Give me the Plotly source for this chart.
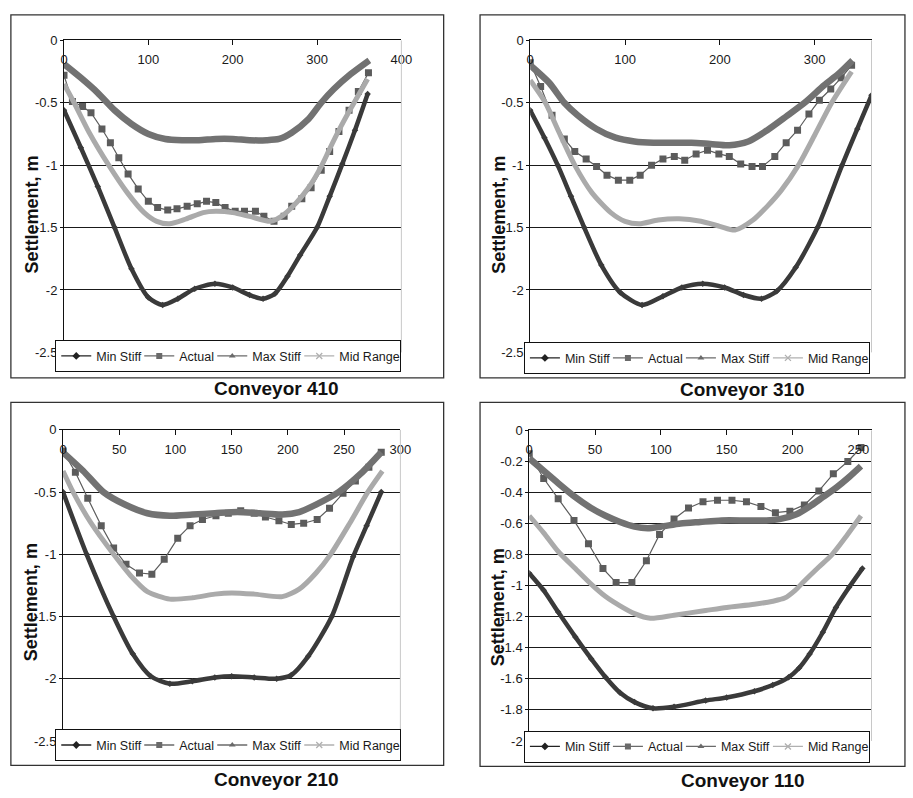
import plotly.graph_objects as go

W, H = 913, 798

# ---------------- Conveyor 410 ----------------
c410_min_x = [0, 20, 40, 60, 80, 100, 117, 135, 155, 179, 200, 220, 236, 250, 265, 280, 300, 315, 330, 345, 360]
c410_min_y = [-0.56, -0.86, -1.17, -1.50, -1.83, -2.06, -2.12, -2.07, -1.99, -1.95, -1.98, -2.04, -2.07, -2.03, -1.89, -1.72, -1.50, -1.25, -0.99, -0.72, -0.43]
c410_act_x = [0, 10, 22, 32, 45, 55, 65, 76, 88, 100, 111, 123, 134, 146, 158, 169, 180, 191, 203, 214, 227, 237, 249, 261, 270, 282, 293, 305, 315, 326, 338, 349, 361]
c410_act_y = [-0.28, -0.49, -0.53, -0.58, -0.71, -0.82, -0.94, -1.07, -1.19, -1.29, -1.34, -1.36, -1.35, -1.33, -1.31, -1.29, -1.30, -1.34, -1.37, -1.37, -1.37, -1.41, -1.45, -1.41, -1.33, -1.27, -1.18, -1.04, -0.89, -0.73, -0.56, -0.41, -0.26]
c410_max_x = [0, 20, 40, 60, 80, 100, 120, 140, 160, 180, 200, 220, 240, 255, 270, 290, 305, 320, 340, 362]
c410_max_y = [-0.19, -0.30, -0.42, -0.56, -0.67, -0.75, -0.79, -0.80, -0.80, -0.79, -0.79, -0.80, -0.80, -0.79, -0.74, -0.63, -0.50, -0.39, -0.27, -0.16]
c410_mid_x = [0, 12, 30, 53, 75, 95, 110, 125, 145, 165, 180, 200, 220, 245, 260, 270, 282, 293, 305, 315, 326, 338, 349, 360]
c410_mid_y = [-0.35, -0.50, -0.74, -1.00, -1.22, -1.38, -1.45, -1.47, -1.43, -1.38, -1.37, -1.38, -1.41, -1.45, -1.40, -1.34, -1.25, -1.15, -1.01, -0.87, -0.72, -0.57, -0.44, -0.31]

# ---------------- Conveyor 310 ----------------
c310_min_x = [0, 15, 29, 43, 57, 75, 95, 118, 140, 160, 182, 205, 225, 244, 260, 280, 303, 329, 345, 360]
c310_min_y = [-0.56, -0.78, -1.00, -1.25, -1.50, -1.80, -2.02, -2.12, -2.05, -1.98, -1.95, -1.98, -2.04, -2.07, -2.01, -1.82, -1.50, -1.00, -0.71, -0.44]
c310_act_x = [0, 11, 23, 36, 47, 59, 70, 81, 93, 105, 116, 128, 140, 152, 163, 175, 187, 199, 210, 222, 234, 245, 258, 270, 282, 294, 305, 317, 328, 339]
c310_act_y = [-0.18, -0.37, -0.60, -0.79, -0.89, -0.95, -1.01, -1.08, -1.12, -1.12, -1.08, -1.00, -0.95, -0.93, -0.96, -0.91, -0.88, -0.91, -0.93, -0.99, -1.01, -1.01, -0.93, -0.82, -0.72, -0.59, -0.48, -0.39, -0.30, -0.20]
c310_max_x = [0, 20, 36, 50, 70, 90, 110, 130, 150, 170, 190, 210, 230, 250, 270, 291, 310, 325, 340]
c310_max_y = [-0.20, -0.34, -0.50, -0.60, -0.71, -0.78, -0.81, -0.82, -0.82, -0.82, -0.83, -0.84, -0.81, -0.72, -0.61, -0.49, -0.36, -0.27, -0.16]
c310_mid_x = [0, 16, 30, 47, 65, 85, 100, 115, 135, 157, 180, 200, 216, 235, 250, 265, 283, 300, 318, 339]
c310_mid_y = [-0.32, -0.50, -0.73, -1.00, -1.22, -1.38, -1.45, -1.47, -1.44, -1.43, -1.45, -1.49, -1.52, -1.44, -1.33, -1.20, -1.00, -0.76, -0.50, -0.25]

# ---------------- Conveyor 210 ----------------
c210_min_x = [0, 21, 45, 62, 78, 95, 115, 135, 150, 170, 190, 203, 218, 239, 258, 270, 283]
c210_min_y = [-0.50, -1.00, -1.50, -1.80, -1.98, -2.04, -2.02, -1.99, -1.98, -1.99, -2.00, -1.97, -1.82, -1.50, -1.02, -0.77, -0.50]
c210_act_x = [0, 11, 22, 34, 45, 56, 68, 79, 90, 102, 113, 124, 136, 147, 158, 170, 180, 192, 203, 214, 226, 237, 249, 260, 272, 283]
c210_act_y = [-0.17, -0.34, -0.55, -0.77, -0.95, -1.08, -1.15, -1.16, -1.04, -0.87, -0.77, -0.72, -0.69, -0.67, -0.65, -0.67, -0.70, -0.73, -0.76, -0.75, -0.72, -0.63, -0.51, -0.41, -0.30, -0.18]
c210_max_x = [0, 18, 36, 55, 75, 95, 115, 135, 155, 175, 195, 210, 225, 245, 265, 283]
c210_max_y = [-0.18, -0.33, -0.50, -0.60, -0.67, -0.69, -0.68, -0.67, -0.66, -0.67, -0.68, -0.66, -0.60, -0.50, -0.35, -0.18]
c210_mid_x = [0, 9, 25, 45, 60, 75, 95, 115, 135, 150, 170, 195, 210, 225, 238, 255, 271, 284]
c210_mid_y = [-0.33, -0.50, -0.75, -1.00, -1.17, -1.30, -1.36, -1.35, -1.32, -1.31, -1.32, -1.34, -1.28, -1.15, -1.00, -0.75, -0.50, -0.33]

# ---------------- Conveyor 110 ----------------
c110_min_x = [0, 11, 22, 35, 47, 58, 69, 80, 94, 110, 134, 150, 171, 185, 197, 205, 213, 223, 233, 243, 253]
c110_min_y = [-0.92, -1.03, -1.17, -1.33, -1.47, -1.59, -1.69, -1.75, -1.79, -1.78, -1.74, -1.72, -1.68, -1.64, -1.59, -1.53, -1.44, -1.30, -1.14, -1.01, -0.89]
c110_act_x = [0, 11, 22, 34, 45, 56, 66, 78, 89, 99, 110, 121, 132, 143, 154, 165, 176, 187, 198, 209, 220, 231, 242, 252]
c110_act_y = [-0.15, -0.31, -0.44, -0.58, -0.73, -0.89, -0.98, -0.98, -0.84, -0.67, -0.57, -0.50, -0.46, -0.45, -0.45, -0.46, -0.49, -0.53, -0.52, -0.48, -0.39, -0.28, -0.20, -0.11]
c110_max_x = [0, 11, 22, 35, 47, 58, 69, 80, 90, 100, 115, 130, 146, 165, 180, 191, 203, 213, 223, 233, 243, 252]
c110_max_y = [-0.18, -0.26, -0.34, -0.43, -0.50, -0.55, -0.59, -0.62, -0.63, -0.62, -0.60, -0.59, -0.58, -0.58, -0.58, -0.57, -0.54, -0.49, -0.43, -0.37, -0.30, -0.23]
c110_mid_x = [0, 11, 22, 35, 47, 58, 69, 80, 92, 110, 134, 150, 171, 185, 194, 202, 209, 220, 230, 241, 252]
c110_mid_y = [-0.55, -0.66, -0.78, -0.89, -0.99, -1.07, -1.13, -1.18, -1.21, -1.19, -1.16, -1.14, -1.12, -1.10, -1.08, -1.03, -0.97, -0.88, -0.80, -0.68, -0.55]

# ---------------- tick labels ----------------
x_ticks_410 = [0, 100, 200, 300, 400]
x_ticks_310 = [0, 100, 200, 300]
x_ticks_210 = [0, 50, 100, 150, 200, 250, 300]
x_ticks_110 = [0, 50, 100, 150, 200, 250]
y_ticks_25 = [0, -0.5, -1, -1.5, -2, -2.5]
y_labels_25 = ["0", "-0.5", "-1", "-1.5", "-2", "-2.5"]
y_ticks_20 = [0, -0.2, -0.4, -0.6, -0.8, -1, -1.2, -1.4, -1.6, -1.8, -2]
y_labels_20 = ["0", "-0.2", "-0.4", "-0.6", "-0.8", "-1", "-1.2", "-1.4", "-1.6", "-1.8", "-2"]

series_names = ["Min Stiff", "Actual", "Max Stiff", "Mid Range"]
titles = ["Conveyor 410", "Conveyor 310", "Conveyor 210", "Conveyor 110"]
y_title = "Settlement, m"

FONT = "Liberation Sans, Arial, sans-serif"
C_MIN = "#3a3a3a"
C_ACT = "#5c5c5c"
C_MAX = "#727272"
C_MID = "#aaaaaa"

panels = [
    dict(data=[(c410_min_x, c410_min_y), (c410_act_x, c410_act_y), (c410_max_x, c410_max_y), (c410_mid_x, c410_mid_y)],
         px=(61, 404, 34, 352), xmax=400, xt=x_ticks_410, yt=y_ticks_25, yl=y_labels_25, ymin=-2.5,
         frame=(7, 8, 447, 378), title=(277, 389), ytitle=(28, 212), leg=(228, 356)),
    dict(data=[(c310_min_x, c310_min_y), (c310_act_x, c310_act_y), (c310_max_x, c310_max_y), (c310_mid_x, c310_mid_y)],
         px=(535, 882, 34, 352), xmax=360, xt=x_ticks_310, yt=y_ticks_25, yl=y_labels_25, ymin=-2.5,
         frame=(484, 8, 916, 378), title=(751, 390), ytitle=(503, 212), leg=(704.5, 358)),
    dict(data=[(c210_min_x, c210_min_y), (c210_act_x, c210_act_y), (c210_max_x, c210_max_y), (c210_mid_x, c210_mid_y)],
         px=(60, 403, 431, 748), xmax=300, xt=x_ticks_210, yt=y_ticks_25, yl=y_labels_25, ymin=-2.5,
         frame=(7, 403, 447, 773), title=(277, 787), ytitle=(27, 607), leg=(228, 752.5)),
    dict(data=[(c110_min_x, c110_min_y), (c110_act_x, c110_act_y), (c110_max_x, c110_max_y), (c110_mid_x, c110_mid_y)],
         px=(534, 882, 431.5, 748), xmax=260, xt=x_ticks_110, yt=y_ticks_20, yl=y_labels_20, ymin=-2.0,
         frame=(484, 403, 916, 774), title=(751, 788), ytitle=(503, 612), leg=(704.5, 754)),
]

styles = [
    dict(mode="lines+markers", line=dict(color=C_MIN, width=4.5), marker=dict(symbol="diamond", size=5, color=C_MIN)),
    dict(mode="lines+markers", line=dict(color=C_ACT, width=1.2), marker=dict(symbol="square", size=7, color=C_ACT)),
    dict(mode="lines", line=dict(color=C_MAX, width=6.5), marker=dict(symbol="triangle-up", size=6, color=C_MAX)),
    dict(mode="lines", line=dict(color=C_MID, width=5), marker=dict(symbol="x-thin", size=7, line=dict(color=C_MID, width=1.5), color=C_MID)),
]
legend_styles = [
    dict(line=dict(color="#222222", width=1.3), marker=dict(symbol="diamond", size=6, color="#222222")),
    dict(line=dict(color="#6a6a6a", width=1.3), marker=dict(symbol="square", size=6, color="#6a6a6a")),
    dict(line=dict(color="#6a6a6a", width=1.3), marker=dict(symbol="triangle-up", size=6, color="#6a6a6a")),
    dict(line=dict(color="#b0b0b0", width=1.3), marker=dict(symbol="x-thin", size=6, line=dict(color="#b0b0b0", width=1.3))),
]
legend_widths = [38, 28, 42, 56]

fig = go.Figure()
shapes = []
annotations = []
layout = {}

for i, p in enumerate(panels):
    k = "" if i == 0 else str(i + 1)
    xa, ya = "x" + k, "y" + k
    legname = "legend" + k
    x0, x1, y0, y1 = p["px"]
    for j, (xs, ys) in enumerate(p["data"]):
        st = styles[j]
        fig.add_trace(go.Scatter(
            x=xs, y=ys, xaxis=xa, yaxis=ya, mode=st["mode"],
            name=series_names[j], showlegend=False,
            line=dict(shape="spline", smoothing=0.7 if j != 1 else 0, **st["line"]),
            marker=st["marker"], hoverinfo="x+y"))
    for j in range(4):
        ls = legend_styles[j]
        fig.add_trace(go.Scatter(
            x=[None], y=[None], xaxis=xa, yaxis=ya, mode="lines+markers",
            name=series_names[j], legend=legname, showlegend=True,
            legendwidth=legend_widths[j],
            line=ls["line"], marker=ls["marker"]))

    layout["xaxis" + k] = dict(
        domain=[x0 / W, x1 / W], range=[0, p["xmax"]], anchor=ya, side="top",
        showline=True, linecolor="#111111", linewidth=1,
        ticks="inside", ticklen=5, tickcolor="#111111",
        tickvals=p["xt"], ticktext=[str(v) for v in p["xt"]],
        ticklabelstandoff=-30,
        showgrid=False, zeroline=False,
        tickfont=dict(family=FONT, size=13, color="#1a1a1a"))
    layout["yaxis" + k] = dict(
        domain=[1 - y1 / H, 1 - y0 / H], range=[p["ymin"], 0], anchor=xa,
        showline=True, linecolor="#111111", linewidth=1,
        ticks="outside", ticklen=3, tickcolor="#111111",
        tickvals=p["yt"], ticktext=p["yl"],
        showgrid=True, gridcolor="#1a1a1a", gridwidth=1, zeroline=False,
        tickfont=dict(family=FONT, size=13, color="#1a1a1a"))
    layout[legname] = dict(
        orientation="h", x=p["leg"][0] / W, y=1 - p["leg"][1] / H,
        xanchor="center", yanchor="middle",
        bgcolor="white", bordercolor="#111111", borderwidth=1,
        itemwidth=30, font=dict(family=FONT, size=12.5, color="#1a1a1a"),
        tracegroupgap=0)

    # right plot-area border (faint)
    shapes.append(dict(type="line", xref=xa + " domain", yref=ya + " domain",
                       x0=1, x1=1, y0=0, y1=1, line=dict(color="#c8c8c8", width=1)))
    # chart frame
    fx0, fy0, fx1, fy1 = p["frame"]
    shapes.append(dict(type="rect", xref="paper", yref="paper", layer="below",
                       x0=fx0 / W, x1=fx1 / W, y0=1 - fy1 / H, y1=1 - fy0 / H,
                       line=dict(color="#333333", width=1.3)))
    # panel title
    annotations.append(dict(text="<b>" + titles[i] + "</b>", xref="paper", yref="paper",
                            x=p["title"][0] / W, y=1 - p["title"][1] / H,
                            xanchor="center", yanchor="middle", showarrow=False,
                            font=dict(family=FONT, size=19, color="#111111")))
    # y-axis title
    annotations.append(dict(text="<b>" + y_title + "</b>", xref="paper", yref="paper",
                            x=p["ytitle"][0] / W, y=1 - p["ytitle"][1] / H,
                            xanchor="center", yanchor="middle", showarrow=False, textangle=-90,
                            font=dict(family=FONT, size=18, color="#111111")))

fig.update_layout(
    width=W, height=H, margin=dict(l=0, r=0, t=0, b=0),
    paper_bgcolor="white", plot_bgcolor="white",
    shapes=shapes, annotations=annotations, **layout)

fig.write_html("out.html")
